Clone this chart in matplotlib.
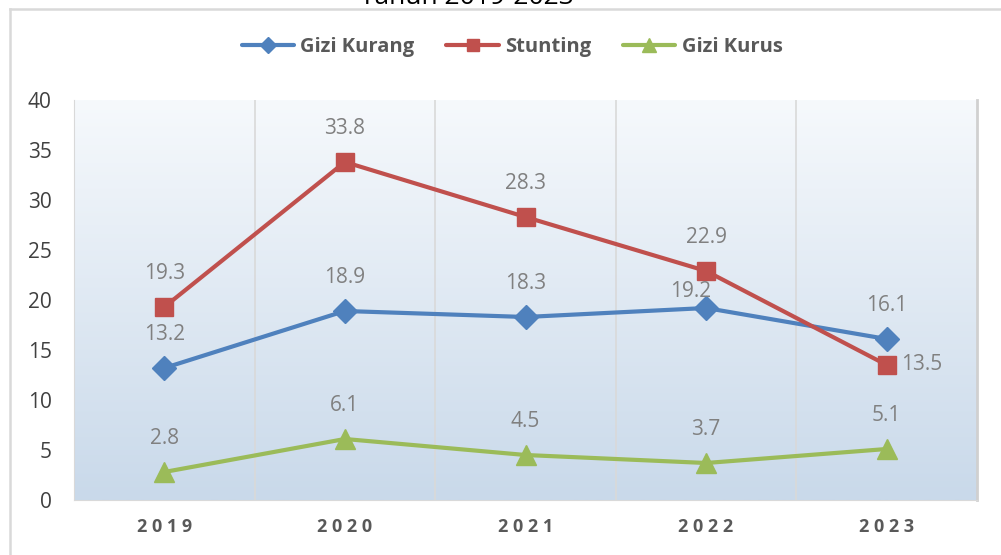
import numpy as np
import matplotlib
matplotlib.use("Agg")
import matplotlib.pyplot as plt
from matplotlib.lines import Line2D
from matplotlib.colors import LinearSegmentedColormap

# ---------------------------------------------
# data
# ---------------------------------------------
years = ["2019", "2020", "2021", "2022", "2023"]
gizi_kurang = [13.2, 18.9, 18.3, 19.2, 16.1]
stunting = [19.3, 33.8, 28.3, 22.9, 13.5]
gizi_kurus = [2.8, 6.1, 4.5, 3.7, 5.1]
title = "Tahun 2019-2023"

plt.rcParams["font.family"] = ["Open Sans", "DejaVu Sans"]

fig = plt.figure(figsize=(10.01, 5.55), dpi=100)
ax = fig.add_axes([74 / 1001, 1 - 500 / 555, 903 / 1001, 400 / 555])

x = np.arange(len(years))
ax.set_xlim(-0.5, len(years) - 0.5)

# gradient background of the plot area (bluish at bottom, light at top)
grad = np.linspace(0, 1, 256).reshape(-1, 1)
cmap = LinearSegmentedColormap.from_list("bg", ["#c9d9ea", "#f6f9fc"])
ax.imshow(grad, aspect="auto", cmap=cmap, extent=(-0.5, len(years) - 0.5, 0, 40),
          origin="lower", zorder=0)
ax.set_ylim(0, 40)

# vertical grid lines between categories
for b in np.arange(0.5, len(years) - 0.5, 1):
    ax.axvline(b, color="#d9d9d9", lw=1.2, zorder=1)

series = [
    ("Gizi Kurang", gizi_kurang, "#4f81bd", "D", 12),
    ("Stunting", stunting, "#c0504d", "s", 13),
    ("Gizi Kurus", gizi_kurus, "#9bbb59", "^", 14),
]

for name, vals, col, mk, ms in series:
    ax.plot(x, vals, color=col, lw=3, marker=mk, markersize=ms, label=name,
            zorder=3, solid_capstyle="round")

# data labels (a few nudged like the original)
nudge = {("Stunting", 4): (10, 0, "left"), ("Gizi Kurang", 3): (-11, 12, "center")}
for name, vals, col, mk, ms in series:
    for i, v in enumerate(vals):
        dx, dy, ha = nudge.get((name, i), (0, 24, "center"))
        ax.annotate(f"{v:.1f}", (x[i], v), xytext=(dx, dy), textcoords="offset points",
                    ha=ha, va="center", fontsize=15, color="#808080", zorder=4)

# axes styling
ax.set_yticks(range(0, 41, 5))
ax.set_xticks(x)
ax.set_xticklabels([" ".join(y) for y in years], fontsize=13, fontweight="bold",
                   color="#595959")
ax.tick_params(axis="x", length=0, pad=13)
ax.tick_params(axis="y", length=0, pad=16, labelsize=15, labelcolor="#404040")
ax.spines["top"].set_visible(False)
ax.spines["left"].set_color("#d9d9d9")
ax.spines["bottom"].set_color("#d9d9d9")
ax.spines["right"].set_color("#d0d0d0")
ax.spines["right"].set_linewidth(2)

leg = fig.legend(loc="center", bbox_to_anchor=(512 / 1001, 1 - 47 / 555), ncol=3,
                 frameon=False, fontsize=14.5, handlelength=2.6, columnspacing=1.6,
                 handletextpad=0.3, markerscale=0.7)
for t in leg.get_texts():
    t.set_color("#595959")
    t.set_fontweight("bold")

# outer frame and the title, cut off at the top edge as in the original
fig.add_artist(Line2D([10 / 1001, 10 / 1001], [0, 1 - 9 / 555], transform=fig.transFigure,
                      color="#d9d9d9", lw=1.8))
fig.add_artist(Line2D([10 / 1001, 1], [1 - 9 / 555, 1 - 9 / 555], transform=fig.transFigure,
                      color="#d9d9d9", lw=1.8))
fig.text(467 / 1001, 1 - 4 / 555, title, ha="center", va="baseline", fontsize=19,
         color="#000000")

fig.savefig("out.png", dpi=100)
